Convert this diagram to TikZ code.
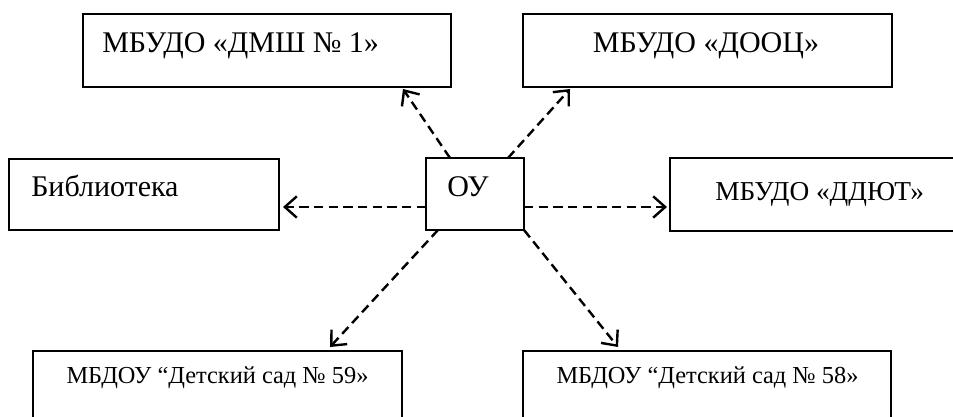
\documentclass[tikz,border=0pt]{standalone}
\usepackage{fontspec}
\setmainfont{Liberation Serif}
\usetikzlibrary{arrows.meta,calc}
\tikzset{
 box/.style={draw,line width=1.8pt,outer sep=0pt,inner sep=0pt,minimum height=54.75pt},
 lbl/.style={inner sep=0pt,font=\fontsize{22.5}{26}\selectfont},
 mid/.style={inner sep=0pt,font=\fontsize{20.5}{24}\selectfont},
 sml/.style={inner sep=0pt,font=\fontsize{18.3}{21}\selectfont},
 link/.style={line width=1.8pt,dash pattern=on 7pt off 4pt,-{Straight Barb[length=9pt,width=16pt,line width=1.8pt]}}
}
\begin{document}
\begin{tikzpicture}[x=0.75pt,y=-0.75pt]
\useasboundingbox (0,0) rectangle (953,417);
\clip (0,0) rectangle (953,417);
% boxes
\node[box,minimum width=276pt] (dmsh) at (267,50.5) {};
\node[box,minimum width=276.75pt] (dooc) at (707.5,50.5) {};
\node[box,minimum width=202.5pt,minimum height=53.25pt] (bib) at (144,194.5) {};
\node[box,minimum width=73.5pt,minimum height=54pt] (ou) at (475,194) {};
\node[box,minimum width=232.5pt] (ddyut) at (825,194.5) {};
\node[box,minimum width=276.75pt] (bl) at (217.5,387.5) {};
\node[box,minimum width=276pt] (br) at (707,387.5) {};
% texts
\node[lbl,anchor=base west] (tdmsh) at (102,53) {МБУДО «ДМШ № 1»};
\node[lbl,anchor=base] (tdooc) at (706,53) {МБУДО «ДООЦ»};
\node[lbl,anchor=base west] (tbib) at (31,197) {Библиотека};
\node[lbl,anchor=base west] (tou) at (447,197) {ОУ};
\node[mid,anchor=base west] (tddyut) at (715,200) {МБУДО «ДДЮТ»};
\node[sml,anchor=base] (tbl) at (217.5,383) {МБДОУ “Детский сад № 59»};
\node[sml,anchor=base] (tbr) at (707.5,383) {МБДОУ “Детский сад № 58»};
% connectors
\draw[link] ($(ou.north west)+(24,0)$) -- ($(dmsh.south east)+(-48,2)$);
\draw[link] ($(ou.north east)+(-16,0)$) -- ($(dooc.south west)+(47,2)$);
\draw[link] ($(ou.south west)+(0,-23)$) -- ($(bib.south east)+(4,-23)$);
\draw[link] ($(ou.south east)+(0,-23)$) -- ($(ddyut.south west)+(-3,-24)$);
\draw[link] ($(ou.south west)+(12,0)$) -- ($(bl.north west)+(297,-4)$);
\draw[link] ($(ou.south east)+(0,0)$) -- ($(br.north west)+(95,-4)$);
\end{tikzpicture}
\end{document}
